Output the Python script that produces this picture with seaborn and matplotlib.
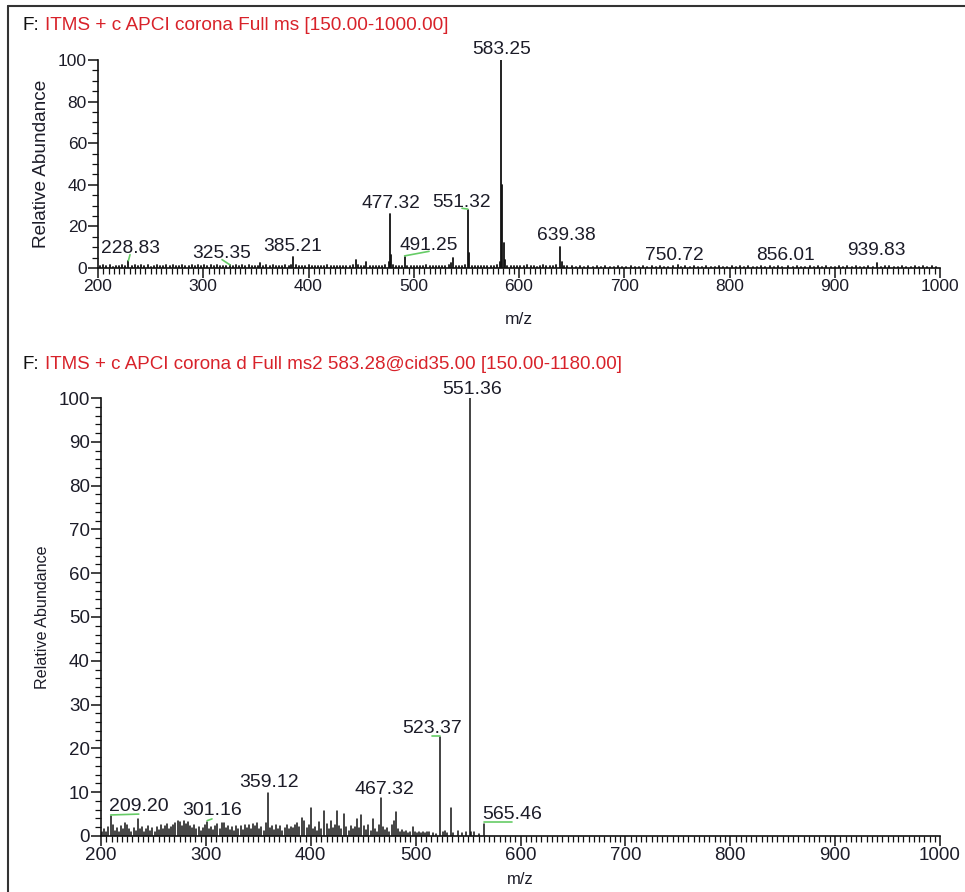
import matplotlib
matplotlib.use("Agg")
import matplotlib.pyplot as plt
from matplotlib.lines import Line2D
from matplotlib.ticker import MultipleLocator
import seaborn as sns
import pandas as pd

# ---------------- data ----------------
top_title_prefix = "F:"
top_title = "ITMS + c APCI corona Full ms [150.00-1000.00]"
bot_title = "ITMS + c APCI corona d Full ms2 583.28@cid35.00 [150.00-1180.00]"

top_peaks = [(228.83, 3.2), (325.35, 1.2), (385.21, 5.5), (445.3, 4.0), (476.3, 3.0),
             (477.32, 26.0), (478.3, 6.0), (491.25, 5.5), (535.0, 2.5), (537.2, 5.0),
             (551.32, 28.0), (552.3, 7.0), (582.2, 3.0), (583.25, 100.0), (584.25, 40.0),
             (585.25, 12.0), (586.2, 4.0), (639.38, 10.0), (640.4, 3.0), (750.72, 1.2),
             (856.01, 1.0), (939.83, 2.2)]

top_noise = [(202,0.8),(205,1.2),(208,0.9),(211,1.4),(214,0.7),(217,1.1),(220,0.9),(223,1.3),(226,0.8),(232,1.0),
             (235,1.5),(238,0.8),(241,1.2),(244,0.9),(247,1.3),(250,0.7),(253,1.1),(256,1.4),(259,0.8),(262,1.0),
             (265,1.2),(268,0.9),(271,1.3),(274,0.8),(277,1.1),(280,1.4),(283,0.9),(286,1.0),(289,1.3),(292,0.8),
             (295,1.2),(298,1.0),(301,1.5),(304,0.9),(307,1.2),(310,1.0),(313,1.4),(316,0.8),(319,1.1),(322,0.9),
             (328,1.0),(331,1.3),(334,0.8),(337,1.2),(340,1.0),(343,1.4),(346,0.9),(349,1.1),(352,1.0),(354,2.6),
             (357,1.0),(360,1.3),(363,0.9),(366,1.2),(369,0.8),(372,1.1),(375,1.0),(378,1.3),(381,0.9),(383,1.6),
             (388,1.2),(391,0.9),(394,1.1),(397,0.8),(400,1.2),(403,0.9),(406,1.0),(409,0.8),(412,1.1),(415,0.9),
             (418,1.2),(421,0.8),(424,1.0),(427,0.9),(430,1.1),(433,0.8),(436,1.0),(439,0.9),(442,1.3),(447,1.5),
             (450,0.9),(453,1.1),(455,2.8),(458,0.9),(461,1.0),(464,0.8),(467,1.1),(470,0.9),(473,1.2),(480,1.3),
             (483,0.9),(486,1.0),(489,0.8),(494,1.0),(497,0.9),(500,1.1),(503,0.8),(506,1.0),(509,0.9),(512,1.2),
             (515,0.8),(518,1.0),(521,0.9),(524,1.1),(527,0.8),(530,1.0),(533,1.3),(540,1.0),(543,0.9),(546,1.1),
             (549,1.2),(555,1.0),(558,0.8),(561,1.0),(564,0.9),(567,1.1),(570,0.8),(573,1.0),(576,0.9),(579,1.2),
             (589,1.0),(592,0.8),(595,1.0),(598,0.9),(601,0.8),(605,1.0),(608,1.6),(611,0.8),(614,1.0),(617,0.7),
             (620,0.9),(623,1.3),(626,0.8),(629,1.0),(632,0.9),(635,1.2),(643,1.0),(646,0.8),(650,0.9),(654,0.7),
             (658,0.8),(662,0.6),(666,0.8),(670,0.7),(674,0.9),(678,0.6),(682,0.8),(686,0.7),(690,0.6),(694,0.8),
             (698,0.7),(702,0.6),(706,0.8),(710,0.7),(714,0.6),(718,0.8),(722,0.7),(726,0.9),(730,0.6),(734,0.8),
             (738,0.7),(742,0.6),(746,0.8),(754,0.7),(758,0.8),(762,0.6),(766,0.9),(770,0.7),(774,0.6),(778,0.8),
             (782,0.7),(786,0.6),(790,0.8),(794,0.7),(798,0.6),(802,0.8),(806,0.7),(810,0.9),(814,0.6),(818,0.8),
             (822,0.7),(826,0.6),(830,0.8),(834,0.7),(838,0.9),(842,0.6),(846,0.8),(850,0.7),(860,0.6),(864,0.8),
             (868,0.7),(872,0.6),(876,0.8),(880,0.7),(884,0.9),(888,0.6),(892,0.8),(896,0.7),(900,0.6),(904,0.8),
             (908,0.7),(912,0.9),(916,0.6),(920,0.8),(924,0.7),(928,0.6),(932,0.8),(936,0.7),(944,0.6),(948,0.8),
             (952,1.0),(956,0.7),(960,0.6),(964,0.8),(968,0.7),(972,0.6),(976,0.8),(980,0.7),(984,0.9),(988,0.6),
             (992,0.8),(996,0.7)]

# label text, peak m/z, peak height, label x, label y (baseline), has green leader
top_labels = [("583.25", 583.25, 100.0, 583.0, 103.0, False),
              ("477.32", 477.32, 26.0, 478.4, 29.0, False),
              ("551.32", 551.32, 28.0, 545.8, 29.5, True),
              ("228.83", 228.83, 3.2, 230.4, 7.2, True),
              ("325.35", 325.35, 1.2, 317.8, 4.8, True),
              ("385.21", 385.21, 5.5, 385.3, 8.2, False),
              ("491.25", 491.25, 5.5, 514.5, 8.8, True),
              ("639.38", 639.38, 10.0, 644.7, 13.5, False),
              ("750.72", 750.72, 1.2, 748.0, 3.6, False),
              ("856.01", 856.01, 1.0, 852.7, 3.6, False),
              ("939.83", 939.83, 2.2, 940.0, 6.0, False)]

bot_peaks = [(209.20, 4.5), (223.0, 3.0), (235.0, 3.8), (301.16, 3.2), (359.12, 9.8), (392.0, 4.2),
             (400.0, 6.5), (413.0, 5.8), (425.0, 5.8), (432.0, 5.0), (444.0, 3.8), (448.0, 4.8),
             (467.32, 8.7), (481.5, 5.5), (497.0, 2.0), (523.37, 22.5), (533.3, 6.5),
             (551.36, 100.0), (565.46, 2.8)]

bot_noise = [(201,0.8),(203,1.5),(205,1.0),(207,2.0),(211,2.5),(213,1.2),(215,1.8),(217,0.9),(219,2.2),(221,1.5),
             (225,2.4),(227,1.6),(229,1.0),(231,1.8),(233,1.2),(237,1.5),(239,2.0),(241,1.0),(243,1.7),(245,2.3),
             (247,1.2),(249,1.8),(251,1.0),(253,2.0),(255,1.4),(257,2.6),(259,1.5),(261,2.2),(263,2.8),(265,1.6),
             (267,2.0),(269,2.4),(271,3.0),(273,3.4),(275,3.2),(277,2.2),(279,3.5),(281,2.8),(283,3.3),(285,2.2),
             (287,1.8),(289,2.6),(291,1.5),(293,2.0),(295,1.2),(297,1.8),(299,2.4),(303,1.5),(305,2.0),(307,1.3),
             (309,2.2),(311,2.8),(313,1.6),(315,2.9),(317,3.0),(319,1.8),(321,2.2),(323,1.4),(325,2.0),(327,1.2),
             (329,2.3),(331,1.6),(333,2.2),(335,1.4),(337,2.6),(339,1.8),(341,2.5),(343,1.5),(345,2.8),(347,2.2),
             (349,3.0),(351,1.6),(353,2.0),(355,1.2),(357,3.0),(361,1.8),(363,2.2),(365,1.4),(367,2.5),(369,1.6),
             (371,2.2),(373,1.2),(375,1.8),(377,2.4),(379,1.5),(381,2.0),(383,1.8),(385,2.6),(387,3.0),(389,2.0),
             (394,3.4),(396,1.8),(398,2.6),(402,1.5),(404,2.0),(406,1.2),(408,3.2),(410,1.6),(415,2.8),(417,1.5),
             (419,3.5),(421,1.8),(423,2.4),(427,2.2),(429,1.5),(434,2.0),(436,1.2),(438,2.3),(440,1.5),(442,2.0),
             (446,1.8),(451,2.2),(453,1.4),(455,2.6),(457,1.2),(459,3.8),(461,1.5),(463,1.0),(465,2.4),(469,2.0),
             (471,1.4),(473,1.8),(475,1.0),(477,2.4),(479,3.4),(483,1.5),(485,1.0),(487,1.4),(489,0.8),(491,1.2),
             (493,0.7),(495,1.0),(499,0.8),(501,0.6),(503,1.0),(505,0.7),(507,0.9),(509,0.6),(511,1.0),(513,0.8),
             (517,0.6),(519,0.5),(526,0.8),(528,1.2),(530,0.6),(536,0.7),(540,1.2),(544,0.6),(548,0.8),(553,1.0),
             (556,0.8),(560,0.5)]

bot_labels = [("551.36", 551.36, 100.0, 553.7, 101.0, False),
              ("523.37", 523.37, 22.5, 515.6, 23.6, True),
              ("359.12", 359.12, 9.8, 360.0, 11.2, False),
              ("467.32", 467.32, 8.7, 470.0, 9.6, False),
              ("209.20", 209.20, 4.5, 236.0, 5.8, True),
              ("301.16", 301.16, 3.2, 305.8, 4.7, True),
              ("565.46", 565.46, 2.8, 591.9, 3.9, True)]

top_yticks = [0, 20, 40, 60, 80, 100]
bot_yticks = [0, 10, 20, 30, 40, 50, 60, 70, 80, 90, 100]
xticks = [200, 300, 400, 500, 600, 700, 800, 900, 1000]

# ---------------- style ----------------
sns.set_theme(style="white")
plt.rcParams["font.family"] = ["Liberation Sans", "DejaVu Sans"]

BLACK = "#111111"
RED = "#d8222a"
GREEN = "#66cc66"
TXT = "#1c1c28"

fig = plt.figure(figsize=(9.65, 8.92), dpi=100)


def stick_frame(peaks, noise):
    rows = []
    uid = 0
    for mz, ab in list(noise) + list(peaks):
        rows.append((mz, 0.0, uid))
        rows.append((mz, ab, uid))
        uid += 1
    return pd.DataFrame(rows, columns=["mz", "ab", "uid"])


def draw_panel(ax, peaks, noise, labels, yticks, ymin_step, lab_fs, tick_fs, ylab_fs,
               xlab_fs, xlab_pad, lw):
    df = stick_frame(peaks, noise)
    sns.lineplot(data=df, x="mz", y="ab", units="uid", estimator=None, sort=False,
                 color=BLACK, linewidth=lw, ax=ax, legend=False)
    ax.set_xlim(200, 1000)
    ax.set_ylim(0, 100)
    ax.set_xticks(xticks)
    ax.set_yticks(yticks)
    ax.xaxis.set_minor_locator(MultipleLocator(5))
    ax.yaxis.set_minor_locator(MultipleLocator(ymin_step))
    ax.tick_params(axis="both", which="major", direction="out", length=7, width=1.1,
                   color=BLACK, labelsize=tick_fs, labelcolor=TXT, pad=1,
                   bottom=True, left=True)
    ax.tick_params(axis="both", which="minor", direction="out", length=4, width=0.9,
                   color=BLACK, bottom=True, left=True)
    for s in ["top", "right"]:
        ax.spines[s].set_visible(False)
    for s in ["left", "bottom"]:
        ax.spines[s].set_color(BLACK)
        ax.spines[s].set_linewidth(1.2)
    ax.set_xlabel("m/z", fontsize=xlab_fs, color=TXT, labelpad=xlab_pad)
    ax.set_ylabel("Relative Abundance", fontsize=ylab_fs, color=TXT, labelpad=6)
    ax.patch.set_alpha(0)
    for text, mz, ab, lx, ly, leader in labels:
        ax.text(lx, ly, text, ha="center", va="baseline", fontsize=lab_fs, color=TXT,
                clip_on=False)
        if leader:
            ax.add_line(Line2D([mz, lx], [ab + 0.3, ly - 0.8], color=GREEN, lw=1.2,
                               clip_on=False))


ax1 = fig.add_axes([0.1016, 0.6996, 0.8725, 0.2332])
draw_panel(ax1, top_peaks, top_noise, top_labels, top_yticks, 5,
           13.8, 12.5, 13.7, 12.5, 13, 1.3)

ax2 = fig.add_axes([0.1047, 0.0628, 0.8694, 0.4910])
draw_panel(ax2, bot_peaks, bot_noise, bot_labels, bot_yticks, 2,
           14.0, 13.5, 11.6, 12, 6, 1.1)

# titles
fig.text(22 / 965, 1 - 25 / 892, top_title_prefix, fontsize=13.7, color=BLACK, va="center")
fig.text(45 / 965, 1 - 25 / 892, top_title, fontsize=13.7, color=RED, va="center")
fig.text(22 / 965, 1 - 364 / 892, top_title_prefix, fontsize=13.5, color=BLACK, va="center")
fig.text(45 / 965, 1 - 364 / 892, bot_title, fontsize=13.5, color=RED, va="center")

# outer frame (left and top edges visible)
fig.add_artist(Line2D([8 / 965, 8 / 965], [0, 1 - 6 / 892], transform=fig.transFigure,
                      color="#333333", lw=1.5))
fig.add_artist(Line2D([8 / 965, 1], [1 - 6 / 892, 1 - 6 / 892], transform=fig.transFigure,
                      color="#333333", lw=1.5))

fig.savefig("out.png", dpi=100, facecolor="white")
